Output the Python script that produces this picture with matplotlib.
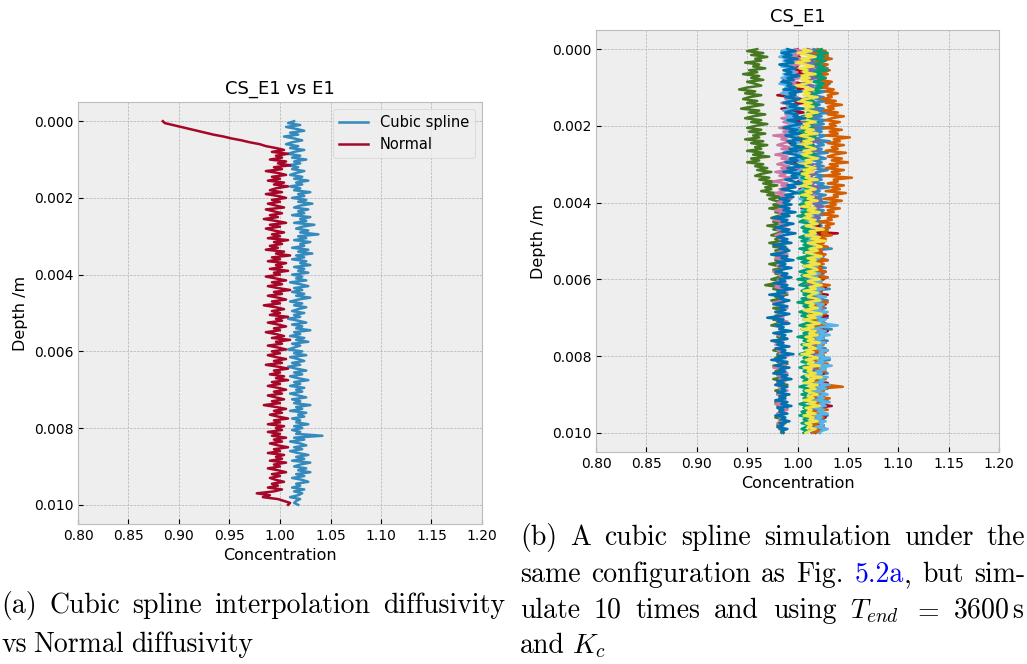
import numpy as np
import matplotlib
matplotlib.use('Agg')
import matplotlib.pyplot as plt

# depth grid (m), 201 nodes
depth = [i * 0.00005 for i in range(201)]

# (a) CS_E1 vs E1
cubic = [
    1.014,1.008,1.020,1.006,1.016,1.024,1.010,1.018,1.004,1.014,1.022,1.012,1.006,1.018,1.010,1.024,1.014,1.008,1.020,1.012,
    1.026,1.014,1.020,1.008,1.018,1.012,1.024,1.016,1.010,1.022,1.014,1.028,1.016,1.022,1.010,1.020,1.014,1.030,1.018,1.024,
    1.012,1.026,1.018,1.032,1.020,1.014,1.028,1.018,1.024,1.012,1.030,1.020,1.026,1.014,1.034,1.022,1.016,1.028,1.020,1.038,
    1.018,1.026,1.014,1.030,1.020,1.024,1.012,1.028,1.018,1.032,1.016,1.024,1.012,1.026,1.020,1.030,1.014,1.024,1.018,1.028,
    1.012,1.022,1.016,1.026,1.010,1.020,1.028,1.014,1.022,1.012,1.024,1.016,1.030,1.018,1.010,1.022,1.014,1.026,1.018,1.012,
    1.024,1.014,1.020,1.008,1.018,1.026,1.012,1.022,1.016,1.030,1.014,1.020,1.010,1.024,1.016,1.028,1.012,1.020,1.014,1.008,
    1.022,1.014,1.026,1.010,1.018,1.024,1.012,1.020,1.008,1.016,1.026,1.014,1.022,1.010,1.018,1.028,1.014,1.020,1.010,1.024,
    1.016,1.022,1.010,1.018,1.026,1.012,1.020,1.014,1.030,1.016,1.022,1.010,1.026,1.018,1.024,1.012,1.020,1.016,1.028,1.014,
    1.022,1.012,1.020,1.016,1.042,1.014,1.024,1.010,1.020,1.026,1.014,1.022,1.010,1.018,1.028,1.016,1.024,1.012,1.030,1.020,
    1.014,1.026,1.018,1.030,1.016,1.024,1.012,1.022,1.028,1.016,1.020,1.012,1.024,1.014,1.022,1.018,1.010,1.020,1.016,1.014,
    1.018]
normal = [
    0.884,0.886,0.894,0.902,0.910,0.918,0.926,0.934,0.944,0.952,0.962,0.970,0.980,0.986,0.996,1.004,0.992,1.008,0.996,1.002,
    0.990,1.006,0.998,1.010,0.994,1.002,0.986,0.998,1.006,0.992,1.000,0.988,1.004,0.994,1.008,0.996,0.990,1.002,0.986,0.998,
    1.006,0.992,1.000,0.988,0.996,1.004,0.986,0.994,1.002,0.990,0.998,0.984,0.996,1.006,0.990,1.000,0.986,0.994,1.004,0.992,
    1.000,0.988,1.008,0.994,1.002,0.990,0.998,0.986,1.004,0.996,1.010,0.992,1.000,0.988,1.006,0.996,1.002,0.990,1.008,0.994,
    1.000,0.986,0.996,1.006,0.992,1.002,0.988,0.998,1.010,0.994,1.002,0.988,0.998,1.006,0.992,1.000,0.984,0.996,1.004,0.992,
    1.000,0.990,1.008,0.996,1.002,0.988,0.998,1.006,0.994,1.000,0.986,0.996,1.004,0.992,1.010,0.996,1.002,0.988,0.998,1.006,
    0.992,1.000,0.988,0.996,1.006,0.994,1.002,0.986,0.998,1.008,0.994,1.000,0.990,1.004,0.996,1.008,0.992,1.000,0.988,0.998,
    1.006,0.994,1.002,0.988,0.996,1.004,0.992,1.000,0.984,0.996,1.006,0.994,1.002,0.990,0.998,1.008,0.994,1.000,0.988,1.004,
    0.996,1.002,0.988,1.000,0.992,1.006,0.994,1.002,0.990,0.998,1.008,0.994,1.000,0.988,1.004,0.996,1.002,0.990,1.006,0.994,
    1.000,0.988,0.998,1.006,0.992,1.000,0.990,0.996,1.004,0.992,0.998,0.988,1.002,0.994,0.977,0.990,0.983,0.998,1.004,1.010,
    1.008]

# (b) CS_E1, 10 runs
run1 = [
    1.016,1.024,1.010,1.022,1.030,1.016,1.026,1.012,1.024,1.018,1.030,1.014,1.022,1.028,1.012,1.020,1.026,1.016,1.032,1.018,
    1.024,1.012,1.028,1.020,1.014,1.026,1.018,1.030,1.016,1.022,1.010,1.026,1.020,1.034,1.016,1.024,1.012,1.028,1.020,1.026,
    1.014,1.030,1.018,1.024,1.012,1.028,1.022,1.016,1.032,1.020,1.026,1.014,1.024,1.018,1.030,1.012,1.022,1.028,1.016,1.024,
    1.018,1.026,1.012,1.030,1.020,1.014,1.028,1.018,1.024,1.010,1.026,1.020,1.032,1.016,1.022,1.014,1.028,1.020,1.024,1.012,
    1.030,1.018,1.024,1.014,1.026,1.020,1.032,1.016,1.022,1.012,1.028,1.018,1.024,1.014,1.030,1.020,1.026,1.012,1.022,1.016,
    1.028,1.014,1.024,1.018,1.034,1.016,1.022,1.010,1.026,1.020,1.030,1.014,1.024,1.018,1.028,1.012,1.022,1.026,1.016,1.030,
    1.020,1.024,1.012,1.028,1.018,1.032,1.016,1.022,1.014,1.026,1.020,1.030,1.012,1.024,1.018,1.028,1.014,1.022,1.026,1.016,
    1.030,1.018,1.024,1.012,1.028,1.020,1.034,1.016,1.022,1.014,1.026,1.018,1.030,1.012,1.024,1.020,1.028,1.016,1.022,1.014,
    1.026,1.020,1.032,1.016,1.024,1.012,1.028,1.018,1.022,1.030,1.014,1.026,1.020,1.024,1.012,1.028,1.016,1.030,1.018,1.022,
    1.014,1.026,1.020,1.030,1.016,1.024,1.012,1.028,1.018,1.022,1.014,1.030,1.020,1.026,1.016,1.024,1.012,1.022,1.028,1.018,
    1.022]
run2 = [
    1.000,0.992,1.006,0.996,1.002,0.988,0.998,1.008,0.994,1.000,0.990,1.004,0.996,1.008,0.992,1.000,0.986,0.996,1.004,0.992,
    0.998,1.006,0.990,0.998,0.980,0.994,1.004,0.996,1.008,0.990,0.998,0.984,0.996,1.006,0.992,1.000,0.988,0.998,1.004,0.994,
    1.002,0.996,1.008,0.994,1.004,0.998,1.010,0.996,1.004,0.992,1.006,1.000,1.010,0.996,1.004,0.998,1.012,1.000,1.006,0.996,
    1.008,1.002,1.012,0.998,1.006,1.002,1.014,1.004,1.010,1.000,1.012,1.006,1.016,1.002,1.010,1.006,1.014,1.004,1.012,1.008,
    1.016,1.006,1.012,1.004,1.018,1.010,1.014,1.008,1.020,1.012,1.016,1.010,1.022,1.012,1.018,1.008,1.040,1.014,1.020,1.010,
    1.018,1.012,1.022,1.014,1.020,1.010,1.024,1.016,1.020,1.012,1.026,1.016,1.022,1.014,1.024,1.018,1.028,1.014,1.022,1.018,
    1.026,1.016,1.022,1.012,1.028,1.020,1.024,1.014,1.030,1.018,1.024,1.016,1.022,1.028,1.016,1.024,1.012,1.026,1.020,1.030,
    1.018,1.024,1.014,1.028,1.020,1.026,1.016,1.030,1.018,1.024,1.012,1.026,1.020,1.028,1.016,1.022,1.014,1.030,1.020,1.024,
    1.016,1.028,1.020,1.024,1.014,1.030,1.018,1.024,1.016,1.026,1.020,1.014,1.024,1.018,1.030,1.016,1.036,1.020,1.026,1.016,
    1.024,1.018,1.028,1.014,1.022,1.020,1.034,1.018,1.026,1.016,1.024,1.020,1.028,1.014,1.022,1.018,1.026,1.012,1.020,1.016,
    1.018]
run3 = [
    1.010,1.018,1.006,1.014,1.020,1.008,1.016,1.004,1.012,1.022,1.010,1.016,1.006,1.018,1.012,1.020,1.008,1.014,1.004,1.016,
    1.012,1.020,1.008,1.016,1.010,1.022,1.006,1.014,1.018,1.010,1.016,1.006,1.020,1.012,1.008,1.018,1.010,1.014,1.004,1.016,
    1.012,1.020,1.008,1.016,1.010,1.018,1.006,1.014,1.022,1.010,1.016,1.008,1.014,1.020,1.010,1.016,1.006,1.018,1.012,1.008,
    1.016,1.010,1.020,1.012,1.006,1.018,1.014,1.010,1.020,1.008,1.016,1.012,1.022,1.010,1.018,1.014,1.008,1.020,1.016,1.024,
    1.012,1.018,1.026,1.014,1.020,1.010,1.018,1.012,1.022,1.016,1.010,1.020,1.014,1.018,1.012,1.016,1.010,1.020,1.014,1.018,
    1.008,1.016,1.012,1.020,1.006,1.014,1.018,1.010,1.016,1.008,1.022,1.012,1.018,1.006,1.014,1.020,1.010,1.016,1.012,1.020,
    1.010,1.018,1.014,1.008,1.020,1.012,1.016,1.006,1.018,1.012,1.022,1.010,1.016,1.014,1.020,1.008,1.018,1.012,1.016,1.010,
    1.020,1.014,1.018,1.010,1.024,1.016,1.012,1.020,1.014,1.018,1.010,1.022,1.016,1.020,1.012,1.018,1.014,1.024,1.012,1.018,
    1.026,1.014,1.020,1.010,1.018,1.012,1.022,1.016,1.010,1.020,1.014,1.018,1.012,1.016,1.010,1.020,1.014,1.018,1.012,1.022,
    1.016,1.010,1.020,1.014,1.018,1.012,1.016,1.010,1.020,1.014,1.018,1.012,1.016,1.022,1.014,1.018,1.010,1.016,1.012,1.018,
    1.014]
run4 = [
    0.960,0.950,0.966,0.954,0.970,0.958,0.964,0.948,0.962,0.956,0.968,0.952,0.960,0.946,0.962,0.954,0.966,0.950,0.958,0.964,
    0.950,0.942,0.958,0.948,0.964,0.952,0.946,0.960,0.950,0.966,0.954,0.944,0.962,0.952,0.968,0.956,0.948,0.964,0.954,0.970,
    0.958,0.950,0.964,0.952,0.968,0.956,0.962,0.948,0.966,0.954,0.970,0.958,0.964,0.950,0.966,0.956,0.972,0.954,0.962,0.950,
    0.966,0.958,0.970,0.960,0.974,0.964,0.958,0.972,0.962,0.976,0.966,0.980,0.968,0.974,0.964,0.978,0.970,0.984,0.972,0.978,
    0.988,0.976,0.982,0.972,0.986,0.978,0.990,0.980,0.974,0.986,0.976,0.984,0.970,0.982,0.976,0.988,0.980,0.974,0.986,0.978,
    0.984,0.972,0.982,0.976,0.990,0.978,0.986,0.974,0.982,0.988,0.978,0.984,0.972,0.980,0.986,0.976,0.984,0.978,0.988,0.980,
    0.974,0.984,0.978,0.968,0.982,0.976,0.986,0.980,0.990,0.978,0.984,0.974,0.986,0.980,0.988,0.976,0.984,0.980,0.986,0.978,
    0.984,0.976,0.988,0.980,0.974,0.986,0.982,0.990,0.978,0.984,0.980,0.988,0.976,0.984,0.980,0.990,0.982,0.976,0.986,0.980,
    0.988,0.978,0.984,0.980,0.990,0.976,0.986,0.982,0.978,0.988,0.980,0.986,0.976,0.984,0.980,0.990,0.982,0.986,0.978,0.984,
    0.980,0.988,0.982,0.986,0.978,0.984,0.980,0.990,0.982,0.986,0.980,0.984,0.978,0.986,0.982,0.988,0.980,0.984,0.982,0.986,
    0.984]
run5 = [
    1.020,1.028,1.016,1.030,1.022,1.034,1.024,1.018,1.030,1.026,1.020,1.032,1.024,1.030,1.018,1.028,1.022,1.034,1.026,1.030,
    1.024,1.036,1.028,1.040,1.030,1.034,1.024,1.038,1.028,1.044,1.030,1.036,1.026,1.040,1.030,1.046,1.034,1.028,1.042,1.032,
    1.038,1.026,1.044,1.032,1.040,1.028,1.052,1.036,1.042,1.030,1.046,1.034,1.040,1.028,1.048,1.036,1.030,1.044,1.034,1.050,
    1.032,1.040,1.028,1.046,1.034,1.042,1.026,1.054,1.036,1.040,1.030,1.046,1.034,1.042,1.028,1.048,1.036,1.040,1.026,1.044,
    1.032,1.038,1.028,1.042,1.030,1.036,1.024,1.040,1.030,1.034,1.022,1.036,1.028,1.032,1.020,1.030,1.024,1.034,1.020,1.028,
    1.016,1.026,1.020,1.030,1.014,1.024,1.018,1.028,1.014,1.022,1.030,1.018,1.026,1.012,1.024,1.018,1.028,1.014,1.022,1.030,
    1.018,1.024,1.014,1.032,1.020,1.026,1.012,1.024,1.018,1.028,1.016,1.022,1.030,1.014,1.026,1.020,1.024,1.012,1.028,1.018,
    1.022,1.014,1.026,1.020,1.030,1.016,1.024,1.012,1.022,1.028,1.016,1.024,1.010,1.020,1.026,1.018,1.024,1.014,1.028,1.020,
    1.026,1.014,1.022,1.018,1.030,1.016,1.024,1.020,1.028,1.014,1.024,1.018,1.028,1.016,1.022,1.030,1.045,1.020,1.026,1.016,
    1.024,1.014,1.032,1.020,1.028,1.016,1.024,1.018,1.030,1.014,1.022,1.018,1.026,1.012,1.024,1.020,1.016,1.026,1.018,1.022,
    1.016]
run6 = [
    0.998,1.004,0.992,1.000,0.994,1.006,0.996,0.990,1.002,0.994,0.998,0.988,1.000,0.992,0.996,1.002,0.990,0.998,0.994,1.004,
    0.992,0.998,0.986,0.996,0.990,1.000,0.988,0.994,0.984,0.996,0.990,0.998,0.986,0.994,0.988,0.998,0.984,0.992,0.986,0.996,
    0.990,0.982,0.994,0.986,0.998,0.976,0.990,0.984,0.994,0.986,0.980,0.992,0.984,0.996,0.988,0.978,0.990,0.984,0.994,0.986,
    0.980,0.992,0.984,0.990,0.978,0.988,0.982,0.994,0.986,0.976,0.990,0.984,0.992,0.982,0.988,0.978,0.990,0.984,0.994,0.986,
    0.980,0.988,0.984,0.992,0.978,0.986,0.982,0.990,0.984,0.976,0.988,0.982,0.990,0.986,0.980,0.988,0.984,0.978,0.986,0.982,
    0.990,0.984,0.978,0.988,0.982,0.986,0.980,0.990,0.984,0.978,0.988,0.982,0.986,0.980,0.990,0.984,0.976,0.986,0.982,0.988,
    0.984,0.980,0.988,0.982,0.978,0.986,0.984,0.990,0.980,0.986,0.982,0.988,0.976,0.986,0.982,0.990,0.984,0.978,0.988,0.982,
    0.986,0.980,0.990,0.984,0.978,0.986,0.982,0.988,0.984,0.980,0.986,0.990,0.982,0.986,0.978,0.988,0.984,0.980,0.986,0.982,
    0.990,0.984,0.978,0.986,0.982,0.988,0.976,0.986,0.984,0.990,0.980,0.986,0.982,0.988,0.984,0.978,0.986,0.982,0.990,0.984,
    0.980,0.986,0.982,0.988,0.984,0.978,0.986,0.982,0.990,0.984,0.980,0.986,0.982,0.988,0.984,0.980,0.986,0.982,0.988,0.984,
    0.986]
run7 = [
    0.990,0.984,0.996,0.988,0.982,0.994,0.986,0.998,0.990,0.984,0.994,0.988,0.998,0.986,0.992,0.984,0.996,0.990,0.982,0.994,
    0.988,0.998,0.990,0.984,0.996,0.988,1.000,0.992,0.986,0.996,0.990,0.998,0.986,0.994,1.000,0.990,0.996,0.988,0.998,0.992,
    1.002,0.994,1.004,0.996,0.990,1.000,0.994,1.006,0.998,1.002,0.994,1.008,1.000,0.996,1.006,0.998,1.004,0.996,1.010,1.000,
    1.006,0.998,1.008,1.002,0.998,1.006,1.000,1.010,1.002,1.008,1.000,1.012,1.004,1.008,1.000,1.010,1.004,1.012,1.002,1.008,
    1.004,1.012,1.006,1.014,1.004,1.010,1.006,1.016,1.008,1.012,1.004,1.014,1.008,1.016,1.006,1.012,1.008,1.018,1.010,1.014,
    1.006,1.018,1.010,1.016,1.008,1.020,1.012,1.016,1.010,1.022,1.012,1.018,1.010,1.020,1.014,1.018,1.010,1.022,1.014,1.020,
    1.012,1.024,1.016,1.020,1.012,1.026,1.016,1.022,1.014,1.028,1.018,1.024,1.012,1.026,1.020,1.024,1.014,1.030,1.018,1.024,
    1.016,1.028,1.020,1.026,1.040,1.022,1.016,1.028,1.020,1.032,1.018,1.026,1.014,1.028,1.020,1.024,1.016,1.030,1.022,1.026,
    1.018,1.032,1.020,1.026,1.016,1.034,1.022,1.028,1.018,1.024,1.016,1.030,1.022,1.026,1.018,1.032,1.020,1.028,1.016,1.024,
    1.030,1.020,1.026,1.018,1.032,1.022,1.028,1.016,1.026,1.020,1.030,1.018,1.024,1.016,1.028,1.022,1.026,1.018,1.030,1.024,
    1.022]
run8 = [
    1.024,1.018,1.030,1.020,1.026,1.016,1.028,1.022,1.018,1.026,1.020,1.030,1.016,1.024,1.018,1.028,1.022,1.016,1.026,1.020,
    1.024,1.014,1.022,1.018,1.012,1.020,1.008,1.016,1.010,1.020,1.012,1.006,1.016,1.010,1.018,1.004,1.014,1.008,1.020,1.012,
    1.006,1.016,1.010,1.002,1.014,1.008,1.018,1.004,1.012,1.006,1.016,1.010,1.002,1.014,1.008,1.018,1.010,1.004,1.014,1.008,
    1.012,1.002,1.016,1.006,1.012,1.000,1.010,1.004,1.014,1.008,1.002,1.012,1.006,1.016,1.008,1.000,1.010,1.004,1.014,1.006,
    1.010,1.002,1.012,1.006,1.016,1.004,1.010,1.000,1.012,1.006,1.002,1.014,1.008,1.004,1.012,1.006,1.016,1.008,1.002,1.010,
    1.004,1.012,1.006,1.014,1.002,1.010,1.006,1.016,1.008,1.000,1.012,1.004,1.010,1.006,1.014,1.008,1.002,1.012,1.004,1.010,
    1.000,1.012,1.006,1.002,1.014,1.008,1.004,1.012,1.006,1.016,1.004,1.010,1.000,1.012,1.006,1.014,1.008,1.002,1.010,1.004,
    1.012,1.006,1.016,1.008,1.002,1.010,1.004,1.014,1.006,1.010,1.000,1.012,1.006,1.016,1.004,1.010,1.006,1.014,1.008,1.002,
    1.012,1.006,1.010,1.004,1.014,1.008,1.002,1.012,1.006,1.016,1.008,1.004,1.010,1.006,1.014,1.008,1.002,1.012,1.006,1.010,
    1.004,1.012,1.006,1.014,1.008,1.002,1.010,1.006,1.012,1.004,1.008,1.002,1.012,1.006,1.010,1.004,1.012,1.008,1.004,1.010,
    1.006]
run9 = [
    1.006,1.014,1.000,1.010,1.018,1.004,1.012,0.998,1.008,1.016,1.002,1.010,1.006,1.018,1.000,1.012,1.004,1.014,1.008,0.998,
    1.010,1.016,1.002,1.012,1.006,1.020,1.008,1.000,1.014,1.006,1.016,1.004,1.012,1.020,1.008,1.014,1.002,1.010,1.018,1.006,
    1.012,1.004,1.016,1.008,1.020,1.002,1.010,1.016,1.006,1.014,1.000,1.012,1.018,1.006,1.014,1.004,1.012,1.020,1.008,1.014,
    1.002,1.010,1.018,1.006,1.016,1.004,1.012,1.008,1.020,1.006,1.014,1.002,1.012,1.018,1.008,1.014,1.004,1.016,1.010,1.020,
    1.008,1.014,1.004,1.018,1.010,1.022,1.008,1.014,1.006,1.018,1.012,1.020,1.008,1.016,1.026,1.012,1.018,1.008,1.022,1.014,
    1.028,1.010,1.018,1.024,1.012,1.020,1.008,1.016,1.024,1.010,1.018,1.012,1.022,1.006,1.016,1.020,1.010,1.018,1.006,1.014,
    1.022,1.010,1.016,1.024,1.012,1.018,1.006,1.020,1.014,1.010,1.018,1.022,1.008,1.016,1.012,1.020,1.006,1.014,1.024,1.010,
    1.018,1.006,1.014,1.022,1.010,1.016,1.004,1.018,1.012,1.020,1.008,1.016,1.010,1.022,1.006,1.014,1.018,1.008,1.016,1.004,
    1.014,1.020,1.008,1.016,1.010,1.022,1.006,1.014,1.010,1.018,1.008,1.024,1.012,1.016,1.006,1.020,1.012,1.018,1.008,1.014,
    1.020,1.010,1.016,1.006,1.018,1.012,1.022,1.008,1.014,1.010,1.018,1.006,1.016,1.012,1.020,1.008,1.014,1.010,1.018,1.012,
    1.008]
run10 = [
    0.990,0.998,0.984,0.994,0.986,1.000,0.988,0.996,0.982,0.992,0.998,0.986,0.994,0.988,1.002,0.990,0.996,0.984,0.994,0.990,
    0.998,0.986,1.004,0.992,0.998,0.988,1.002,0.994,0.986,1.000,0.992,1.006,0.994,0.988,1.000,0.996,1.008,0.990,0.998,1.004,
    0.994,0.986,1.000,0.992,1.002,0.988,0.996,1.004,0.990,0.998,0.994,1.006,0.992,1.000,0.986,0.998,1.004,0.992,1.000,0.988,
    0.996,1.006,0.990,0.998,0.986,1.002,0.994,1.000,0.988,0.996,1.004,0.990,0.998,0.984,0.994,1.000,0.988,0.996,0.982,0.992,
    0.986,0.994,0.982,0.992,0.986,0.998,0.984,0.992,0.976,0.990,0.984,0.996,0.986,0.978,0.992,0.984,0.998,0.986,0.980,0.990,
    0.984,0.994,0.976,0.988,0.982,0.992,0.986,0.974,0.990,0.984,0.996,0.980,0.988,0.982,0.994,0.984,0.978,0.990,0.984,0.994,
    0.982,0.988,0.976,0.990,0.984,0.996,0.980,0.988,0.972,0.986,0.982,0.992,0.984,0.976,0.990,0.982,0.988,0.978,0.992,0.984,
    0.970,0.986,0.980,0.992,0.978,0.986,0.982,0.994,0.976,0.988,0.984,0.990,0.974,0.986,0.980,0.992,0.978,0.988,0.984,0.996,
    0.980,0.988,0.974,0.990,0.984,0.978,0.992,0.982,0.988,0.976,0.990,0.984,0.994,0.980,0.986,0.978,0.990,0.984,0.988,0.980,
    0.992,0.982,0.988,0.978,0.990,0.984,0.994,0.980,0.986,0.982,0.990,0.978,0.988,0.984,0.992,0.982,0.986,0.980,0.990,0.984,
    0.986]
runs = [run1, run2, run3, run4, run5, run6, run7, run8, run9, run10]

xticks = [0.80, 0.85, 0.90, 0.95, 1.00, 1.05, 1.10, 1.15, 1.20]
yticks = [0.000, 0.002, 0.004, 0.006, 0.008, 0.010]

plt.style.use('bmh')
plt.rcParams['mathtext.fontset'] = 'cm'

W, H = 1027, 664
fig = plt.figure(figsize=(W / 100, H / 100), dpi=100)

def setup(ax, title):
    ax.set_xlim(0.80, 1.20)
    ax.set_xticks(xticks)
    ax.set_yticks(yticks)
    ax.invert_yaxis()
    ax.set_xlabel('Concentration', fontsize=11.5)
    ax.set_ylabel('Depth /m', fontsize=11.5)
    ax.set_title(title, fontsize=13)
    ax.tick_params(labelsize=10)

ax1 = fig.add_axes([78 / W, 1 - 524 / H, 404 / W, 422 / H])
ax1.plot(cubic, depth[:len(cubic)], lw=1.8, label='Cubic spline')
ax1.plot(normal, depth[:len(normal)], lw=1.8, label='Normal')
setup(ax1, 'CS_E1 vs E1')
ax1.legend(loc='upper right', fontsize=10.5)

ax2 = fig.add_axes([596 / W, 1 - 452 / H, 403 / W, 422 / H])
for r in runs:
    ax2.plot(r, depth[:len(r)], lw=1.8)
setup(ax2, 'CS_E1')

# captions (LaTeX-like, justified)
rend = fig.canvas.get_renderer()
CAP = dict(fontfamily='cmr10', fontsize=20, va='baseline', ha='left')

def put_line(words, x0, x1, y, justify=True):
    # words: list of lists of (text, colour) pieces
    items = []
    for w in words:
        pieces = []
        for s, c in w:
            t = fig.text(0, 0, s, color=c, **CAP)
            pieces.append((t, t.get_window_extent(rend).width))
        items.append(pieces)
    widths = [sum(p[1] for p in w) for w in items]
    if justify and len(items) > 1:
        gap = max((x1 - x0 - sum(widths)) / (len(items) - 1), 3.0)
    else:
        gap = 7.0
    x = x0
    for w, wd in zip(items, widths):
        for t, pw in w:
            t.set_position((x / W, 1 - y / H))
            x += pw
        x += gap

def words(s, c='black'):
    return [[(w, c)] for w in s.split()]

put_line(words('(a) Cubic spline interpolation diffusivity'), 1, 505, 613)
put_line(words('vs Normal diffusivity'), 1, 505, 652, justify=False)

put_line(words('(b) A cubic spline simulation under the'), 520, 1025, 545)
put_line(words('same configuration as Fig.') + [[('5.2a', 'blue'), (',', 'black')]]
         + words('but sim-'), 520, 1025, 582)
put_line(words('ulate 10 times and using') + [[('$T_{end}$', 'black')], [('$=$', 'black')],
         [('$3600\\,\\mathrm{s}$', 'black')]], 520, 1025, 618)
put_line(words('and') + [[('$K_c$', 'black')]], 520, 1025, 653, justify=False)

fig.savefig('out.png', dpi=100)
